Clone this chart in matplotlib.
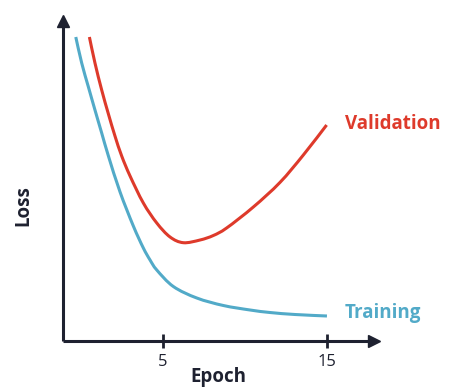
import matplotlib
matplotlib.use("Agg")
import matplotlib.pyplot as plt
from matplotlib.path import Path
from matplotlib.patches import PathPatch

# Data (epoch, loss in arbitrary units)
train_epoch = [-0.32, 0.04, 0.45, 0.85, 1.26, 1.67, 2.38, 3.19, 3.80, 4.21, 4.62, 5.63,
               7.06, 8.68, 10.31, 11.52, 13.05, 15.0]
train_loss = [3.04, 2.78, 2.54, 2.31, 2.08, 1.85, 1.49, 1.15, 0.93, 0.81, 0.71, 0.545,
              0.43, 0.355, 0.31, 0.285, 0.265, 0.25]

val_epoch = [0.51, 0.85, 1.26, 1.67, 2.07, 2.48, 2.99, 3.80, 4.62, 5.43, 6.24, 7.26,
             8.07, 8.88, 10.51, 12.13, 13.56, 14.98]
val_loss = [3.04, 2.78, 2.51, 2.27, 2.05, 1.85, 1.65, 1.38, 1.18, 1.04, 0.983, 1.01,
            1.055, 1.13, 1.34, 1.585, 1.86, 2.16]

xticks = [5, 15]
xtick_labels = ["5", "15"]

RED = "#de3a2b"
BLUE = "#52aac8"
AXC = "#1e2130"
FONT = "Open Sans"


def smooth_path(xs, ys):
    """Catmull-Rom curve through the given points, as cubic Bezier segments."""
    pts = list(zip(xs, ys))
    verts = [pts[0]]
    codes = [Path.MOVETO]
    n = len(pts)
    for i in range(n - 1):
        p0 = pts[i - 1] if i > 0 else pts[i]
        p1 = pts[i]
        p2 = pts[i + 1]
        p3 = pts[i + 2] if i + 2 < n else pts[i + 1]
        c1 = (p1[0] + (p2[0] - p0[0]) / 6, p1[1] + (p2[1] - p0[1]) / 6)
        c2 = (p2[0] - (p3[0] - p1[0]) / 6, p2[1] - (p3[1] - p1[1]) / 6)
        verts += [c1, c2, p2]
        codes += [Path.CURVE4] * 3
    return Path(verts, codes)


fig = plt.figure(figsize=(4.65, 3.9), dpi=100)
ax = fig.add_axes([63 / 465, 49 / 390, 311 / 465, 320 / 390])
ax.set_xlim(-1.10, 17.87)
ax.set_ylim(0, 3.20)

for xs, ys, col, name in [(train_epoch, train_loss, BLUE, "Training"),
                          (val_epoch, val_loss, RED, "Validation")]:
    ax.add_patch(PathPatch(smooth_path(xs, ys), fill=False, edgecolor=col, lw=2.2,
                           capstyle="butt", joinstyle="round", label=name))

for s in ["top", "right"]:
    ax.spines[s].set_visible(False)
for s in ["left", "bottom"]:
    ax.spines[s].set_color(AXC)
    ax.spines[s].set_linewidth(2.2)
    ax.spines[s].set_capstyle("butt")

# arrow heads
ax.plot(1, 0, marker=">", color=AXC, markersize=9, transform=ax.transAxes, clip_on=False)
ax.plot(0, 1, marker="^", color=AXC, markersize=9, transform=ax.transAxes, clip_on=False)

ax.set_xticks(xticks)
ax.set_xticklabels(xtick_labels, fontfamily=FONT, fontsize=12, color=AXC)
ax.tick_params(axis="x", direction="inout", length=10, width=2, color=AXC, pad=4)
ax.set_yticks([])

ax.set_xlabel("Epoch", fontfamily=FONT, fontsize=13.5, fontweight="bold", color=AXC)
ax.xaxis.set_label_coords((218 - 63) / 311, (341 - 367) / 320)
ax.set_ylabel("Loss", fontfamily=FONT, fontsize=13.5, fontweight="bold", color=AXC)
ax.yaxis.set_label_coords((33 - 63) / 311, (341 - 206) / 320)

ax.text(16.1, 2.17, "Validation", color=RED, fontfamily=FONT, fontsize=13.5,
        fontweight="bold", ha="left", va="center", clip_on=False)
ax.text(16.1, 0.28, "Training", color=BLUE, fontfamily=FONT, fontsize=13.5,
        fontweight="bold", ha="left", va="center", clip_on=False)

fig.savefig("out.png", dpi=100)
